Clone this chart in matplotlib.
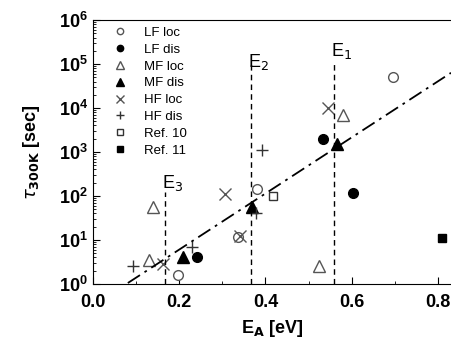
import numpy as np
import matplotlib.pyplot as plt
from matplotlib.ticker import MultipleLocator, LogLocator, NullFormatter

plt.rcParams['font.family'] = ['Liberation Sans', 'DejaVu Sans']

# data (E_A in eV, tau in sec)
lf_loc_e = [0.197, 0.336, 0.38, 0.696]
lf_loc_t = [1.6, 11.7, 145, 5e4]
lf_dis_e = [0.241, 0.533, 0.603]
lf_dis_t = [4.0, 2000, 117]
mf_loc_e = [0.139, 0.130, 0.58, 0.524]
mf_loc_t = [56, 3.5, 7000, 2.6]
mf_dis_e = [0.209, 0.369, 0.566]
mf_dis_t = [4.0, 56, 1500]
hf_loc_e = [0.162, 0.306, 0.341, 0.545]
hf_loc_t = [2.8, 112, 12, 1e4]
hf_dis_e = [0.093, 0.23, 0.378, 0.392]
hf_dis_t = [2.6, 7.0, 41, 1100]
ref10_e = [0.417]
ref10_t = [100]
ref11_e = [0.809]
ref11_t = [11]

# fit line end points
fit_e = [0.081, 0.83]
fit_t = [1.05, 6.3e4]

# activation energy markers: position, top of dashed line, label position
lines_e = [0.559, 0.366, 0.167]
lines_top = [1.05e5, 1.0e5, 123]
labels = ['E$_1$', 'E$_2$', 'E$_3$']
label_xy = [(0.577, 2.0e5), (0.384, 1.1e5), (0.185, 2.0e2)]

fig = plt.figure(figsize=(4.51, 3.45), dpi=100)
ax = fig.add_axes([0.206, 0.177, 0.794, 0.765])

grey = '#555555'
ms = 7
ax.plot(lf_loc_e, lf_loc_t, 'o', ms=ms, mfc='white', mec=grey, mew=1.0, label='LF loc')
ax.plot(lf_dis_e, lf_dis_t, 'o', ms=ms, color='black', label='LF dis')
ax.plot(mf_loc_e, mf_loc_t, '^', ms=ms + 1, mfc='white', mec=grey, mew=1.0, label='MF loc')
ax.plot(mf_dis_e, mf_dis_t, '^', ms=ms + 1, color='black', label='MF dis')
ax.plot(hf_loc_e, hf_loc_t, 'x', ms=ms + 1, color=grey, mew=1.0, label='HF loc')
ax.plot(hf_dis_e, hf_dis_t, '+', ms=ms + 1, color='#333333', mew=1.0, label='HF dis')
ax.plot(ref10_e, ref10_t, 's', ms=ms - 1, mfc='white', mec='#333333', mew=1.0, label='Ref. 10')
ax.plot(ref11_e, ref11_t, 's', ms=ms - 1, color='black', label='Ref. 11')

ax.plot(fit_e, fit_t, color='black', lw=1.3, ls=(0, (8, 3, 1.5, 3)))

for e, top in zip(lines_e, lines_top):
    ax.plot([e, e], [1, top], color='black', lw=1.0, ls=(0, (4, 3)))
for lab, (x, y) in zip(labels, label_xy):
    ax.text(x, y, lab, fontsize=13, ha='center', va='center')

ax.set_yscale('log')
ax.set_xlim(0, 0.83)
ax.set_ylim(1, 1e6)
ax.xaxis.set_major_locator(MultipleLocator(0.2))
ax.xaxis.set_minor_locator(MultipleLocator(0.1))
ax.yaxis.set_major_locator(LogLocator(base=10, numticks=10))
ax.yaxis.set_minor_locator(LogLocator(base=10, subs=np.arange(2, 10), numticks=20))
ax.yaxis.set_minor_formatter(NullFormatter())
ax.tick_params(which='both', direction='in')
ax.tick_params(which='major', length=5, labelsize=13)
ax.tick_params(axis='x', which='major', pad=7)
ax.tick_params(which='minor', length=2.5)
for t in ax.get_xticklabels() + ax.get_yticklabels():
    t.set_fontweight('bold')
ax.spines['right'].set_visible(False)

ax.set_xlabel('E$_\\mathbf{A}$ [eV]', fontsize=13, fontweight='bold', labelpad=5)
ax.set_ylabel('$\\tau_{\\mathbf{300K}}$ [sec]', fontsize=13, fontweight='bold', labelpad=12)

ax.legend(loc='upper left', frameon=False, fontsize=9.5, markerscale=0.65,
          handletextpad=0.8, labelspacing=0.35, borderaxespad=0.1,
          bbox_to_anchor=(0.02, 1.0))

fig.savefig('out.png', dpi=100)
